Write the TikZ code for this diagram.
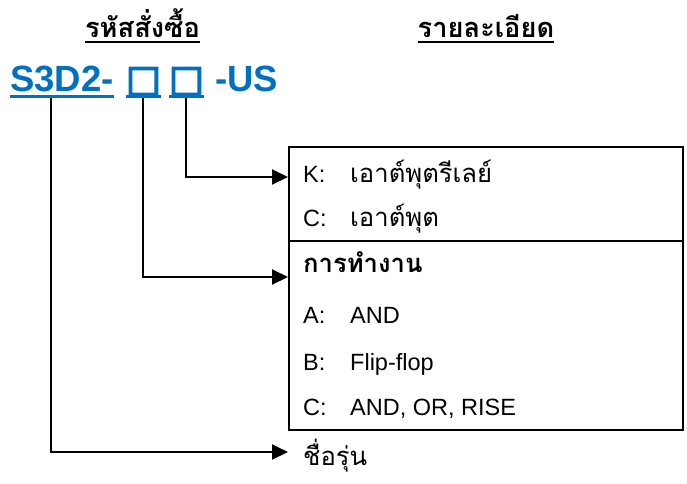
\documentclass[tikz,border=0pt]{standalone}
\usepackage{fontspec}
\setmainfont{Liberation Sans}
\newfontfamily\thaifont[Script=Thai,Scale=1.09]{Loma}
\newfontfamily\boxfont[FakeBold=5]{DejaVu Sans}
\usetikzlibrary{positioning,arrows.meta}
\definecolor{codeblue}{RGB}{0,112,192}

\tikzset{
  codetext/.style={font=\fontsize{36.5}{40}\selectfont\bfseries, text=codeblue,
                   inner sep=0pt, anchor=base west},
  headtext/.style={font=\thaifont\fontsize{25}{28}\selectfont\bfseries,
                   inner sep=0pt, anchor=base},
  rowtext/.style={font=\fontsize{23.5}{28}\selectfont, inner sep=0pt, anchor=base west},
  codeline/.style={codeblue, line width=3.5pt},
  headline/.style={black, line width=2.5pt},
  leader/.style={line width=2pt, -{Triangle[length=16pt,width=15pt]}},
  detailbox/.style={draw, line width=2pt, minimum width=394pt, minimum height=283pt,
                    inner sep=0pt},
}
\newcommand{\rowkey}[1]{\makebox[47pt][l]{#1}}

\begin{document}
\begin{tikzpicture}[x=1pt,y=-1pt]
  \useasboundingbox (0,0) rectangle (687,483);

  % ── Headings ──
  \node[headtext] (ordercode) at (142.5,37) {รหัสสั่งซื้อ};
  \node[headtext] (details) at (486,37) {รายละเอียด};
  \draw[headline] ([yshift=-5pt]ordercode.base west) -- ([yshift=-5pt]ordercode.base east);
  \draw[headline] ([yshift=-5pt]details.base west) -- ([yshift=-5pt]details.base east);

  % ── Order code ──
  \node[codetext] (s3d2) at (10,91) {S3D2-};
  \node[codetext] (boxA) at (126,91) {\boxfont\mdseries □};
  \node[codetext] (boxB) at (169,91) {\boxfont\mdseries □};
  \node[codetext] (us) at (215,91) {-US};
  \draw[codeline] ([yshift=-5.5pt]s3d2.base west) -- ([yshift=-5.5pt]s3d2.base east);
  \draw[codeline] ([yshift=-5.5pt]boxA.base west) -- ([yshift=-5.5pt]boxA.base east);
  \draw[codeline] ([yshift=-5.5pt]boxB.base west) -- ([yshift=-5.5pt]boxB.base east);

  % ── Detail box ──
  \node[detailbox] (detail) at (486,288.5) {};
  \draw[line width=2pt] (detail.west |- 0,241) -- (detail.east |- 0,241);

  % output
  \node[rowtext] (relay) at (303,182) {\rowkey{K:}{\thaifont เอาต์พุตรีเลย์}};
  \node[rowtext] (output) at (303,226) {\rowkey{C:}{\thaifont เอาต์พุต}};
  % operation
  \node[rowtext] (operation) at (303,272) {\thaifont\bfseries การทำงาน};
  \node[rowtext] (modeA) at (303,323) {\rowkey{A:}AND};
  \node[rowtext] (modeB) at (303,370) {\rowkey{B:}Flip-flop};
  \node[rowtext] (modeC) at (303,415) {\rowkey{C:}AND, OR, RISE};

  \node[rowtext] (model) at (303,465) {\thaifont ชื่อรุ่น};

  % ── Leaders ──
  \coordinate (outputin) at (288,177);
  \coordinate (operationin) at (288,277);
  \coordinate (modelin) at (288,452);
  \draw[leader] ([yshift=-7pt]boxB.base) |- (outputin);
  \draw[leader] ([yshift=-7pt]boxA.base) |- (operationin);
  \draw[leader] ([xshift=-11pt,yshift=-7pt]s3d2.base) |- (modelin);
\end{tikzpicture}
\end{document}
